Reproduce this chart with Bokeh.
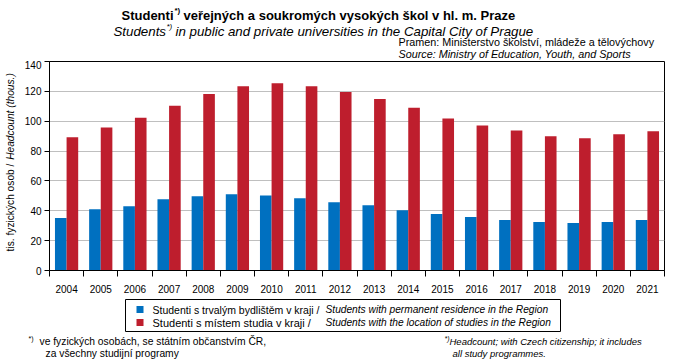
import math
from bokeh.plotting import figure
from bokeh.layouts import column, row
from bokeh.models import (ColumnDataSource, Range1d, FixedTicker, Label, BoxAnnotation)
from bokeh.transform import dodge
from bokeh.embed import file_html
from bokeh.resources import INLINE

years = [2004, 2005, 2006, 2007, 2008, 2009, 2010, 2011, 2012,
         2013, 2014, 2015, 2016, 2017, 2018, 2019, 2020, 2021]
residence = [35.2, 41.1, 43.1, 47.7, 49.7, 51.0, 50.3, 48.4, 45.7,
             43.7, 40.4, 37.8, 35.8, 33.8, 32.5, 31.9, 32.5, 33.8]
study_location = [89.2, 95.8, 102.4, 110.3, 118.2, 123.5, 125.5, 123.5, 119.6,
                  114.9, 109.0, 101.8, 97.1, 93.8, 89.9, 88.6, 91.2, 93.2]
y_ticks = [0, 20, 40, 60, 80, 100, 120, 140]

BLUE = "#0070C0"
RED = "#BE1E2D"
FONT = "Liberation Sans"

W, H = 676, 360
FL, FT, FR, FB = 49, 61, 664, 273  # frame edges in page pixels
TOP_H = 60          # height of the top text strip
LEFT_W = 20         # width of the y-title strip
MAIN_BOTTOM = 295   # page y where the main figure ends

# ---------------- main chart ----------------
p = figure(width=W - LEFT_W, height=MAIN_BOTTOM - TOP_H, output_backend="svg",
           toolbar_location=None,
           x_range=Range1d(2003.5, 2021.5), y_range=Range1d(0, 140),
           min_border_left=FL - LEFT_W, min_border_right=W - FR,
           min_border_top=FT - TOP_H, min_border_bottom=MAIN_BOTTOM - FB)

src = ColumnDataSource(dict(year=years, res=residence, loc=study_location))
p.vbar(x=dodge("year", -0.17, range=p.x_range), top="res", width=0.34,
       source=src, fill_color=BLUE, line_color=None)
p.vbar(x=dodge("year", 0.17, range=p.x_range), top="loc", width=0.34,
       source=src, fill_color=RED, line_color=None)

p.outline_line_color = "black"
p.outline_line_alpha = 1.0
p.outline_line_width = 1
p.background_fill_color = "white"
p.border_fill_color = "white"

p.xgrid.grid_line_color = None
p.ygrid.grid_line_color = "#BFBFBF"
p.ygrid.ticker = FixedTicker(ticks=y_ticks)

xa = p.xaxis[0]
xa.ticker = FixedTicker(ticks=years, minor_ticks=[y - 0.5 for y in years] + [years[-1] + 0.5])
xa.major_tick_out = 0
xa.major_tick_in = 0
xa.minor_tick_out = 6
xa.minor_tick_in = 0
xa.minor_tick_line_color = "black"
xa.axis_line_color = "black"
xa.major_label_standoff = 8
xa.major_label_text_font = FONT
xa.major_label_text_font_size = "10px"
xa.major_label_text_color = "black"

ya = p.yaxis[0]
ya.ticker = FixedTicker(ticks=y_ticks)
ya.major_tick_out = 5
ya.major_tick_in = 0
ya.minor_tick_out = 0
ya.minor_tick_in = 0
ya.axis_line_color = "black"
ya.major_tick_line_color = "black"
ya.major_label_standoff = 3
ya.major_label_text_font = FONT
ya.major_label_text_font_size = "10px"
ya.major_label_text_color = "black"


# ---------------- text strips ----------------
def strip(width, height):
    f = figure(width=width, height=height, output_backend="svg", toolbar_location=None,
               x_range=Range1d(0, 1), y_range=Range1d(0, 1),
               x_axis_location=None, y_axis_location=None,
               min_border=0, min_border_left=0, min_border_right=0,
               min_border_top=0, min_border_bottom=0)
    f.outline_line_color = None
    f.grid.visible = False
    f.background_fill_color = "white"
    f.border_fill_color = "white"
    return f


def make_lab(fig, ox, oy, fh):
    # page pixel -> screen coordinate of a strip whose top-left corner is (ox, oy)
    def lab(x, y, text, size="10px", style="normal", align="left", angle=0):
        fig.add_layout(Label(x=x - ox, y=fh - (y - oy), x_units="screen", y_units="screen",
                             text=text, text_font=FONT, text_font_size=size,
                             text_font_style=style, text_align=align,
                             text_baseline="middle", angle=angle, text_color="black"))

    def box(l, r, t, b, fill, line=None):
        fig.add_layout(BoxAnnotation(left=l - ox, right=r - ox, top=fh - (t - oy),
                                     bottom=fh - (b - oy), left_units="screen",
                                     right_units="screen", top_units="screen",
                                     bottom_units="screen", fill_color=fill, fill_alpha=1,
                                     line_color=line, line_width=1, line_alpha=1))
    return lab, box


top = strip(W, TOP_H)
lab, _ = make_lab(top, 0, 0, TOP_H)
lab(121, 15, "Studenti", size="13px", style="bold")
lab(174, 10, "*)", size="8px", style="bold")
lab(183, 15, "veřejných a soukromých  vysokých  škol v hl. m. Praze", size="13px", style="bold")
lab(113, 31, "Students", size="13.3px", style="italic")
lab(166, 26, "*)", size="8px", style="italic")
lab(175, 31, "in public and private  universities in the Capital City of Prague",
    size="13.3px", style="italic")
lab(398, 41, "Pramen:  Ministerstvo školství, mládeže a tělovýchovy", size="10.8px")
lab(398, 53, "Source: Ministry of Education, Youth, and Sports", size="10.8px", style="italic")

left = strip(LEFT_W, MAIN_BOTTOM - TOP_H)
lab, _ = make_lab(left, 0, TOP_H, MAIN_BOTTOM - TOP_H)
lab(10, 232, "tis. fyzických osob /", size="10.2px", align="center", angle=math.pi / 2)
lab(10, 141, "Headcount (thous.)", size="10.2px", style="italic", align="center",
    angle=math.pi / 2)

bottom = strip(W, H - MAIN_BOTTOM)
lab, box = make_lab(bottom, 0, MAIN_BOTTOM, H - MAIN_BOTTOM)
box(125, 560, 299, 331, "white", "black")
box(136, 143, 305.5, 312.5, BLUE)
box(136, 143, 318.5, 325.5, RED)
lab(152, 309, "Studenti s trvalým bydlištěm v kraji /", size="10.5px")
lab(325, 309, "Students with permanent residence in the Region", size="10.2px", style="italic")
lab(152, 322, "Studenti s místem  studia v kraji /", size="11px")
lab(325, 322, "Students with the location of studies in the Region", size="10.2px", style="italic")
lab(28, 338, "*)", size="7px")
lab(39, 341, "ve fyzických osobách, se státním občanstvím ČR,", size="10.3px")
lab(45, 353, "za všechny studijní programy", size="10.3px")
lab(444, 338, "*)", size="7px", style="italic")
lab(449, 341, "Headcount; with Czech citizenship; it includes", size="9.5px", style="italic")
lab(452, 353, "all study programmes.", size="9.5px", style="italic")

layout = column(top, row(left, p, spacing=0), bottom, spacing=0)
open("out.html", "w").write(file_html(layout, INLINE))
